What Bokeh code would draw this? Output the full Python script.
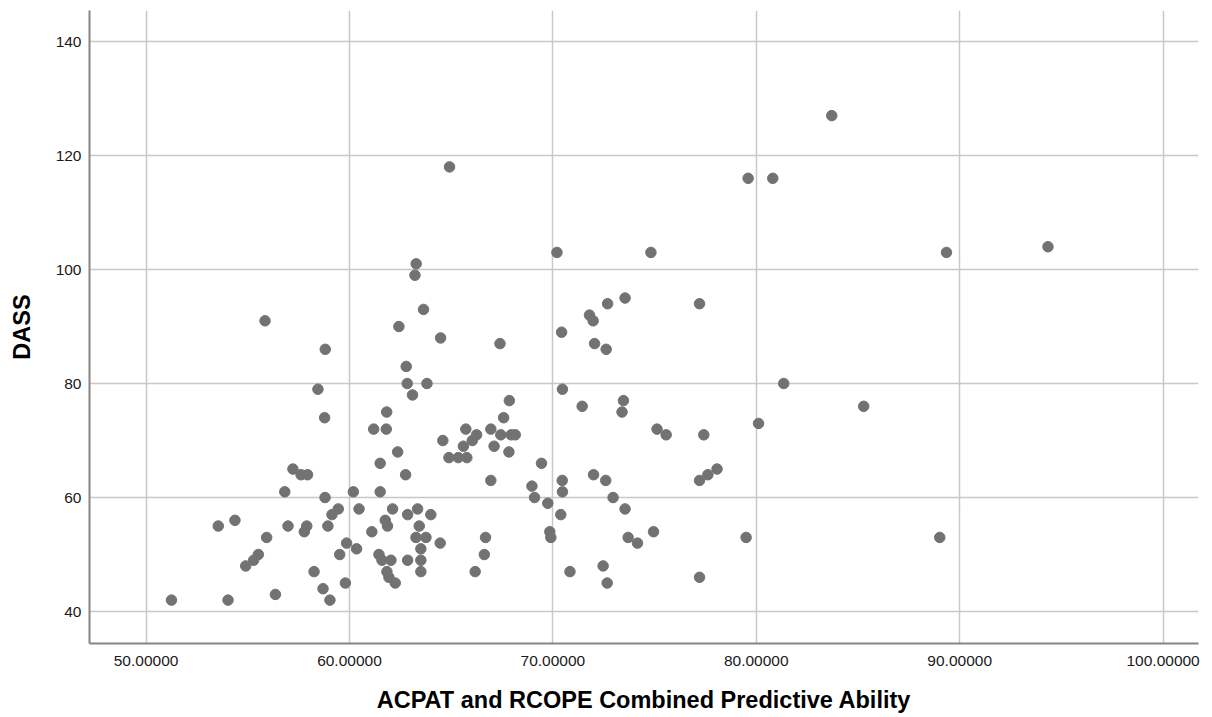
from bokeh.plotting import figure
from bokeh.models import FixedTicker, PrintfTickFormatter, Range1d
from bokeh.embed import file_html
from bokeh.resources import INLINE

# ACPAT and RCOPE Combined Predictive Ability (x) vs DASS (y)
acpat_rcope = [
    55.85, 58.81, 58.45, 58.78, 61.19, 61.81, 61.83, 61.51, 57.22, 57.62,
    57.94, 56.82, 58.80, 60.19, 61.51, 59.45, 59.14, 60.47, 53.55, 54.37,
    56.98, 57.90, 57.78, 58.94, 55.93, 55.52, 55.29, 54.90, 58.26, 59.86,
    60.35, 59.52, 61.10, 61.76, 61.87, 61.45, 61.60, 61.84, 61.94, 58.70,
    59.80, 59.04, 56.36, 51.25, 54.03,
    63.28, 63.22, 70.20, 63.64, 62.43, 64.48, 67.40, 70.43, 71.80, 71.98,
    72.69, 73.55, 72.05, 72.62, 62.79, 62.84, 63.81, 63.10, 70.47, 71.44,
    73.47, 73.40, 67.86, 67.58, 65.72, 66.25, 66.04, 65.60, 66.95, 67.44,
    67.95, 68.15, 67.11, 67.84, 64.59, 64.89, 65.35, 65.77, 62.37, 62.76,
    66.95, 69.44, 68.97, 69.10, 69.75, 70.46, 70.47, 70.39, 72.00, 72.60,
    72.96, 73.55, 73.70, 69.85, 69.90, 70.84, 72.47, 72.67, 62.12, 62.86,
    63.35, 64.00, 63.43, 63.27, 63.76, 63.51, 64.46, 66.69, 66.63, 66.18,
    62.04, 62.86, 63.51, 63.51, 62.25,
    74.82, 77.21, 81.35, 85.28, 80.11, 75.12, 75.57, 77.42, 78.07, 77.62,
    77.21, 74.16, 74.95, 79.50, 77.21,
    64.92, 83.71, 79.60, 80.81, 89.35, 94.34, 89.02,
]
dass = [
    91, 86, 79, 74, 72, 72, 75, 66, 65, 64,
    64, 61, 60, 61, 61, 58, 57, 58, 55, 56,
    55, 55, 54, 55, 53, 50, 49, 48, 47, 52,
    51, 50, 54, 56, 55, 50, 49, 47, 46, 44,
    45, 42, 43, 42, 42,
    101, 99, 103, 93, 90, 88, 87, 89, 92, 91,
    94, 95, 87, 86, 83, 80, 80, 78, 79, 76,
    77, 75, 77, 74, 72, 71, 70, 69, 72, 71,
    71, 71, 69, 68, 70, 67, 67, 67, 68, 64,
    63, 66, 62, 60, 59, 63, 61, 57, 64, 63,
    60, 58, 53, 54, 53, 47, 48, 45, 58, 57,
    58, 57, 55, 53, 53, 51, 52, 53, 50, 47,
    49, 49, 49, 47, 45,
    103, 94, 80, 76, 73, 72, 71, 71, 65, 64,
    63, 52, 54, 53, 46,
    118, 127, 116, 116, 103, 104, 53,
]

x_ticks = [50, 60, 70, 80, 90, 100]
y_ticks = [40, 60, 80, 100, 120, 140]

FONT = "Liberation Sans"

p = figure(
    width=1212, height=717,
    output_backend="svg", toolbar_location=None,
    x_range=Range1d(47.22, 101.74), y_range=Range1d(34.39, 145.44),
    min_border_left=89, min_border_right=14, min_border_top=10, min_border_bottom=74,
)
p.outline_line_color = None
p.background_fill_color = "white"
p.border_fill_color = "white"

p.scatter(acpat_rcope, dass, size=10.5, marker="circle",
          fill_color="#727272", line_color="#727272")

for ax in (p.xaxis[0], p.yaxis[0]):
    ax.major_tick_out = 0
    ax.major_tick_in = 0
    ax.minor_tick_out = 0
    ax.minor_tick_in = 0
    ax.axis_line_color = "#858585"
    ax.axis_line_width = 2
    ax.major_label_text_font = FONT
    ax.major_label_text_font_size = "15.5px"
    ax.major_label_text_color = "#1a1a1a"
    ax.axis_label_text_font = FONT
    ax.axis_label_text_font_size = "23.5px"
    ax.axis_label_text_font_style = "bold"
    ax.axis_label_text_color = "#000000"

p.xaxis.ticker = FixedTicker(ticks=x_ticks)
p.yaxis.ticker = FixedTicker(ticks=y_ticks)
p.xaxis.formatter = PrintfTickFormatter(format="%.5f")
p.xaxis.axis_label = "ACPAT and RCOPE Combined Predictive Ability"
p.yaxis.axis_label = "DASS"
p.xaxis.major_label_standoff = 12
p.yaxis.major_label_standoff = 8
p.xaxis.axis_label_standoff = 18
p.yaxis.axis_label_standoff = 18

p.xgrid.grid_line_color = "#c8c8c8"
p.ygrid.grid_line_color = "#c8c8c8"
p.xgrid.grid_line_width = 1.5
p.ygrid.grid_line_width = 1.5

open("out.html", "w").write(file_html(p, INLINE))
